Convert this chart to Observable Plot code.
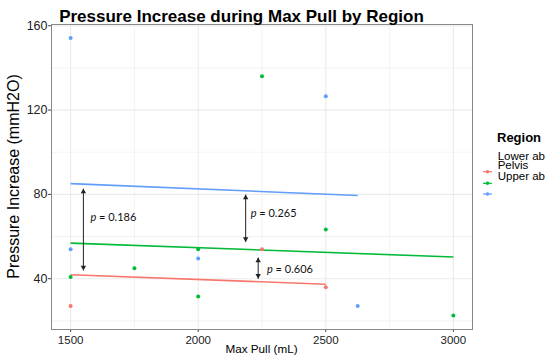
<!DOCTYPE html>
<html>
<head>
<meta charset="utf-8">
<script src="https://cdn.jsdelivr.net/npm/d3@7"></script>
<script src="https://cdn.jsdelivr.net/npm/@observablehq/plot@0.6"></script>
<style>
  html, body { margin: 0; padding: 0; background: #fff; }
  #wrap { position: relative; width: 550px; height: 359px; }
  #overlay { position: absolute; left: 0; top: 0; pointer-events: none; }
</style>
</head>
<body>
<div id="wrap"></div>
<script>
// ---- data ----
const regions = ["Lower ab", "Pelvis", "Upper ab"];
const regionColors = ["#F8766D", "#00BA38", "#619CFF"];

const lowerAbX = [1500, 2250, 2500];
const lowerAbY = [27.0, 54.0, 36.0];
const pelvisX = [1500, 1750, 2000, 2000, 2250, 2500, 3000];
const pelvisY = [40.8, 45.0, 54.0, 31.6, 136.0, 63.4, 22.6];
const upperAbX = [1500, 1500, 2000, 2500, 2625];
const upperAbY = [154.2, 54.0, 49.6, 126.6, 27.0];

// fitted lines (start / end)
const fitStartX = [1500, 1500, 1500];
const fitEndX = [2500, 3000, 2625];
const fitStartY = [41.9, 56.9, 85.1];
const fitEndY = [37.4, 50.3, 79.5];

// p-value brackets
const arrowX = [1550, 2186, 2235];
const arrowTop = [82.7, 79.9, 50.0];
const arrowBottom = [43.9, 57.4, 40.0];
const pValues = ["0.186", "0.265", "0.606"];
const pLabelX = [1578, 2206, 2270];
const pLabelY = [69.2, 71.1, 44.4];

const xTicks = [1500, 2000, 2500, 3000];
const xMinor = [1750, 2250, 2750];
const yTicks = [40, 80, 120, 160];
const yMinor = [20, 60, 100, 140];

// ---- tables ----
const points = [
  ...lowerAbX.map((x, i) => ({region: regions[0], x, y: lowerAbY[i]})),
  ...pelvisX.map((x, i) => ({region: regions[1], x, y: pelvisY[i]})),
  ...upperAbX.map((x, i) => ({region: regions[2], x, y: upperAbY[i]}))
];
const fits = regions.map((r, i) => ({region: r, x1: fitStartX[i], x2: fitEndX[i], y1: fitStartY[i], y2: fitEndY[i]}));
const brackets = arrowX.map((x, i) => ({x, y1: arrowTop[i], y2: arrowBottom[i]}));
const labels = pValues.map((p, i) => ({p, x: pLabelX[i], y: pLabelY[i]}));

const grid = "#ebebeb";
const ink = "#222";
const chart = Plot.plot({
  width: 550,
  height: 359,
  marginLeft: 51,
  marginRight: 78,
  marginTop: 24,
  marginBottom: 30,
  style: {fontFamily: "'Liberation Sans', Arial, sans-serif", background: "#fff", color: "#222"},
  x: {domain: [1425, 3075]},
  y: {domain: [15.9, 160.6]},
  color: {domain: regions, range: regionColors},
  marks: [
    Plot.gridX(xMinor, {stroke: grid, strokeOpacity: 1, strokeWidth: 0.6}),
    Plot.gridY(yMinor, {stroke: grid, strokeOpacity: 1, strokeWidth: 0.6}),
    Plot.gridX(xTicks, {stroke: grid, strokeOpacity: 1, strokeWidth: 1.1}),
    Plot.gridY(yTicks, {stroke: grid, strokeOpacity: 1, strokeWidth: 1.1}),
    Plot.axisY({ticks: yTicks, tickSize: 3, tickPadding: 1, fontSize: 12.5, label: null, stroke: "#444"}),
    Plot.axisX({ticks: xTicks, tickFormat: d => String(d), tickSize: 3, tickPadding: 3, fontSize: 11.5, label: null, stroke: "#444"}),
    Plot.link(fits, {x1: "x1", y1: "y1", x2: "x2", y2: "y2", stroke: "region", strokeWidth: 1.6}),
    Plot.dot(points, {x: "x", y: "y", fill: "region", r: 2}),
    Plot.link(brackets, {x1: "x", x2: "x", y1: "y1", y2: "y2", stroke: ink, strokeWidth: 1}),
    Plot.dot(brackets, {x: "x", y: "y1", symbol: "triangle", r: 2, fill: ink, stroke: "none", dy: 3.1}),
    Plot.dot(brackets, {x: "x", y: "y2", symbol: "triangle", r: 2, rotate: 180, fill: ink, stroke: "none", dy: -3.1}),
    Plot.text(labels, {x: "x", y: "y", text: () => "p", textAnchor: "start", fontStyle: "italic", fontFamily: "Lato, sans-serif", fontSize: 11, fill: "#111"}),
    Plot.text(labels, {x: "x", y: "y", text: d => "= " + d.p, textAnchor: "start", dx: 8.5, fontFamily: "Lato, sans-serif", fontSize: 11, fill: "#111"}),
    Plot.frame({stroke: "#888", strokeWidth: 1})
  ]
});
const wrap = document.getElementById("wrap");
wrap.appendChild(chart);

// ---- overlay: title, axis titles, legend ----
const ov = d3.select(wrap).append("svg").attr("id", "overlay").attr("width", 550).attr("height", 359)
  .attr("font-family", "'Liberation Sans', Arial, sans-serif");
ov.append("text").attr("x", 241.5).attr("y", 21.7).attr("text-anchor", "middle")
  .attr("font-size", 17).attr("font-weight", "bold").attr("fill", "#000")
  .text("Pressure Increase during Max Pull by Region");
ov.append("text").attr("transform", "translate(18.5,176.5) rotate(-90)").attr("text-anchor", "middle")
  .attr("font-size", 16).attr("fill", "#000").text("Pressure Increase (mmH2O)");
ov.append("text").attr("x", 261.5).attr("y", 352.5).attr("text-anchor", "middle")
  .attr("font-size", 11.7).attr("fill", "#000").text("Max Pull (mL)");

ov.append("text").attr("x", 497).attr("y", 141.6).attr("font-size", 13).attr("font-weight", "bold")
  .attr("fill", "#000").text("Region");
const labelBaselines = [160, 169.3, 179.7];
const keyY = [171.7, 183.3, 194];
regions.forEach((r, i) => {
  ov.append("text").attr("x", 497.7).attr("y", labelBaselines[i]).attr("font-size", 11.5)
    .attr("fill", "#000").text(r);
  ov.append("line").attr("x1", 483).attr("x2", 492).attr("y1", keyY[i]).attr("y2", keyY[i])
    .attr("stroke", regionColors[i]).attr("stroke-width", 1.2);
  ov.append("circle").attr("cx", 487.5).attr("cy", keyY[i]).attr("r", 1.8).attr("fill", regionColors[i]);
});
</script>
</body>
</html>
